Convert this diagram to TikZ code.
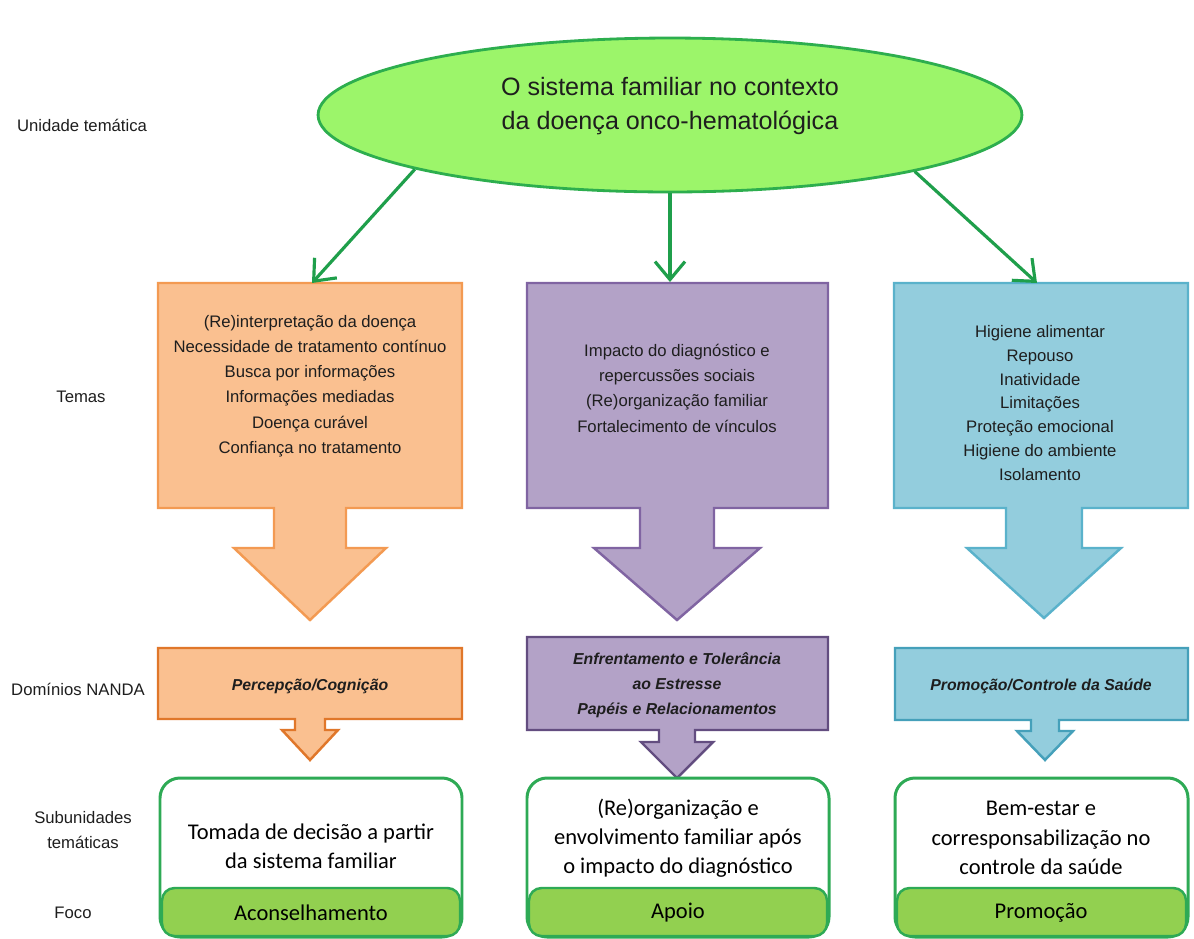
\documentclass[tikz,border=0pt]{standalone}
\usepackage{fontspec}
\setmainfont{Liberation Sans}
\newfontfamily\calibfont{Carlito}
\usepackage{tikz}
\usetikzlibrary{arrows.meta,positioning,shapes.geometric}

\definecolor{laranja}{HTML}{FAC090}
\definecolor{laranjaborda}{HTML}{F39A52}
\definecolor{laranjaescura}{HTML}{E0772A}
\definecolor{roxo}{HTML}{B3A2C7}
\definecolor{roxoborda}{HTML}{8064A2}
\definecolor{roxoescuro}{HTML}{634D80}
\definecolor{azul}{HTML}{93CDDD}
\definecolor{azulborda}{HTML}{5AB2CB}
\definecolor{azulescuro}{HTML}{45A0BA}
\definecolor{lima}{HTML}{9CF56A}
\definecolor{limaborda}{HTML}{2DAE4E}
\definecolor{verdeseta}{HTML}{1F9F4B}
\definecolor{verdefoco}{HTML}{92D050}
\definecolor{verdeborda}{HTML}{2EAA55}
\definecolor{texto}{HTML}{1E1E1E}

\begin{document}
\begin{tikzpicture}[x=0.02cm,y=-0.02cm,>={Straight Barb[length=3.6mm,width=6mm]}]
	\tikzstyle{rotulo} = [text=texto, font=\fontsize{9.5}{13.6}\selectfont, align=center, inner sep=0pt]
	\tikzstyle{temas} = [text=texto, font=\fontsize{9.5}{14.4}\selectfont, align=center, inner sep=0pt]
	\tikzstyle{nanda} = [text=texto, font=\fontsize{9}{14.2}\selectfont\bfseries\itshape, align=center, inner sep=0pt]
	\tikzstyle{subtexto} = [text=black, font=\calibfont\fontsize{12.8}{16.6}\selectfont, align=center, inner sep=0pt]
	\tikzstyle{caixa} = [line width=1.4pt, line join=miter]
	\tikzstyle{subbox} = [draw=verdeborda, fill=white, line width=1.7pt, rounded corners=0.4cm]
	\tikzstyle{focobox} = [draw=verdeborda, fill=verdefoco, line width=1.4pt, rounded corners=0.25cm]
	\tikzstyle{seta} = [->, draw=verdeseta, line width=1.8pt]
	
	\useasboundingbox[fill=white] (0,0) rectangle (1194,938);
	
	\node[ellipse, draw=limaborda, fill=lima, line width=1.6pt, inner sep=0pt, minimum width=14.08cm, minimum height=3.08cm] (tema) at (670,115) {};
	\node[text=texto, font=\fontsize{14.3}{19.8}\selectfont, align=center] (titulo) at (670,106) {O sistema familiar no contexto\\da doença onco-hematológica};
	
	\draw[caixa, fill=laranja, draw=laranjaborda] (158,283) -- (462,283) -- (462,508) -- (346,508) -- (346,548) -- (386,548) -- (310,620) -- (234,548) -- (274,548) -- (274,508) -- (158,508) -- cycle;
	\draw[caixa, fill=roxo, draw=roxoborda] (527,283) -- (828,283) -- (828,508) -- (714,508) -- (714,548) -- (760,548) -- (677,620) -- (594,548) -- (640,548) -- (640,508) -- (527,508) -- cycle;
	\draw[caixa, fill=azul, draw=azulborda] (894,283) -- (1188,283) -- (1188,508) -- (1082,508) -- (1082,548) -- (1121,548) -- (1044,618) -- (967,548) -- (1006,548) -- (1006,508) -- (894,508) -- cycle;
	
	\coordinate (t1) at (312,283);
	\coordinate (t2) at (670,282);
	\coordinate (t3) at (1037,283);
	\draw[seta] (tema.192.4) -- (t1);
	\draw[seta] (tema.south) -- (t2);
	\draw[seta] (tema.347.6) -- (t3);
	
	\node[temas] (temas1) at (310,386) {(Re)interpretação da doença\\Necessidade de tratamento contínuo\\Busca por informações\\Informações mediadas\\Doença curável\\Confiança no tratamento};
	\node[temas] (temas2) at (677,388) {Impacto do diagnóstico e\\repercussões sociais\\(Re)organização familiar\\Fortalecimento de vínculos};
	\node[temas, font=\fontsize{9.5}{13.6}\selectfont] (temas3) at (1040,403) {Higiene alimentar\\Repouso\\Inatividade\\Limitações\\Proteção emocional\\Higiene do ambiente\\Isolamento};
	
	\draw[caixa, fill=laranja, draw=laranjaescura] (158,648) -- (462,648) -- (462,719) -- (325,719) -- (325,730) -- (338,730) -- (310,760) -- (282,730) -- (295,730) -- (295,719) -- (158,719) -- cycle;
	\draw[caixa, fill=roxo, draw=roxoescuro] (527,637) -- (828,637) -- (828,730) -- (695,730) -- (695,742) -- (713,742) -- (677,778) -- (641,742) -- (659,742) -- (659,730) -- (527,730) -- cycle;
	\draw[caixa, fill=azul, draw=azulescuro] (895,648) -- (1188,648) -- (1188,720) -- (1059,720) -- (1059,731) -- (1073,731) -- (1045,760) -- (1017,731) -- (1031,731) -- (1031,720) -- (895,720) -- cycle;
	
	\node[nanda] (nanda1) at (310,686) {Percepção/Cognição};
	\node[nanda] (nanda2) at (677,685) {Enfrentamento e Tolerância\\ao Estresse\\Papéis e Relacionamentos};
	\node[nanda] (nanda3) at (1041,686) {Promoção/Controle da Saúde};
	
	\draw[subbox] (160,778) rectangle (462,937);
	\draw[subbox] (527,778) rectangle (829,937);
	\draw[subbox] (895,778) rectangle (1188,937);
	\draw[focobox] (162,888) rectangle (460,936);
	\draw[focobox] (529,888) rectangle (827,936);
	\draw[focobox] (897,888) rectangle (1186,936);
	
	\node[subtexto] (sub1) at (311,846) {Tomada de decisão a partir\\da sistema familiar};
	\node[subtexto] (sub2) at (678,838) {(Re)organização e\\envolvimento familiar após\\o impacto do diagnóstico};
	\node[subtexto] (sub3) at (1041,838) {Bem-estar e\\corresponsabilização no\\controle da saúde};
	\node[subtexto] (foco1) at (311,913) {Aconselhamento};
	\node[subtexto] (foco2) at (678,913) {Apoio};
	\node[subtexto] (foco3) at (1041,913) {Promoção};
	
	\node[rotulo] (lunidade) at (82,125) {Unidade temática};
	\node[rotulo] (ltemas) at (81,397) {Temas};
	\node[rotulo] (lnanda) at (78,689) {Domínios NANDA};
	\node[rotulo, font=\fontsize{9.5}{13.8}\selectfont] (lsub) at (83,830) {Subunidades\\temáticas};
	\node[rotulo] (lfoco) at (73,913) {Foco};
	
\end{tikzpicture}
\end{document}
